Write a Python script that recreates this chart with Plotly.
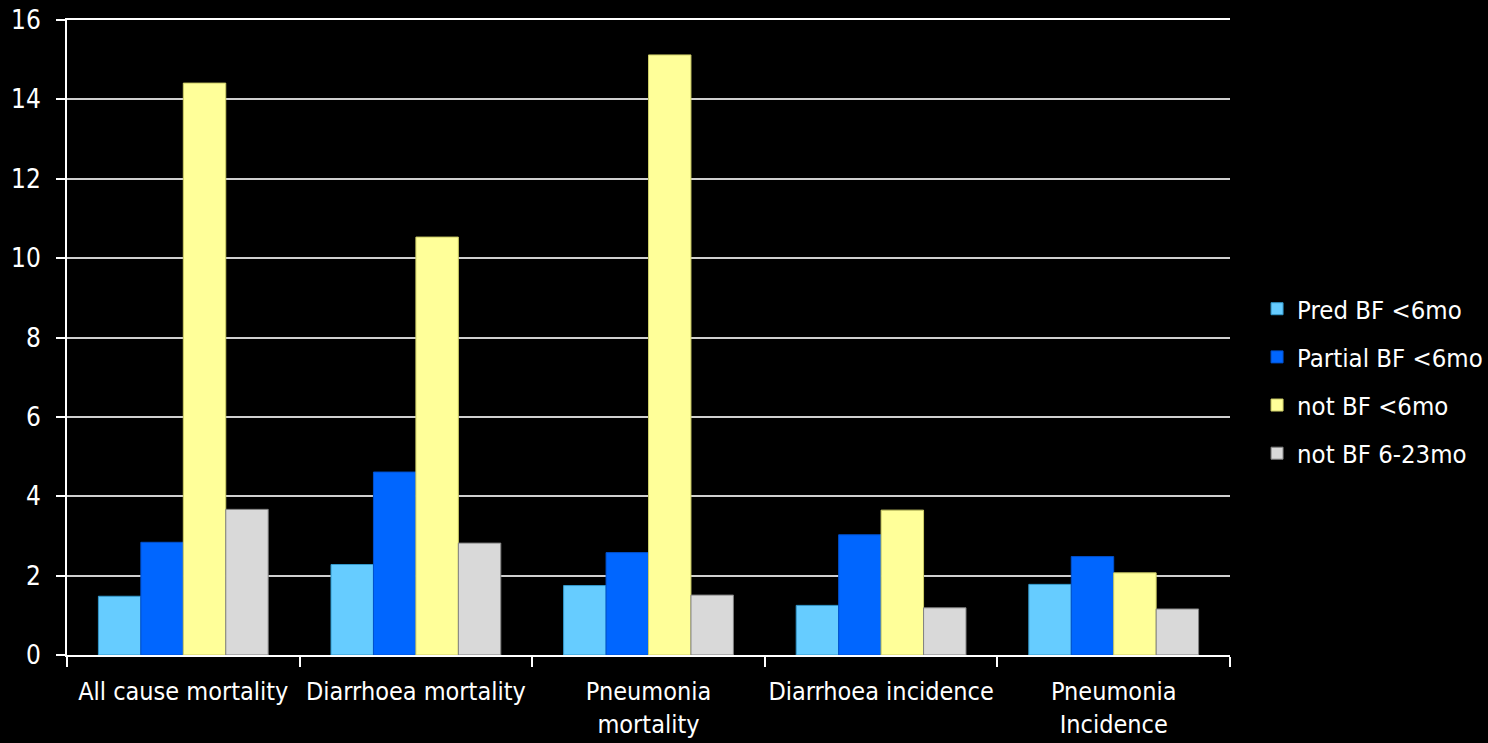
import plotly.graph_objects as go

categories = [
    "All cause mortality",
    "Diarrhoea mortality",
    "Pneumonia<br>mortality",
    "Diarrhoea incidence",
    "Pneumonia<br>Incidence",
]
series_names = ["Pred BF <6mo", "Partial BF <6mo", "not BF <6mo", "not BF 6-23mo"]
pred_bf = [1.48, 2.28, 1.75, 1.25, 1.78]
partial_bf = [2.84, 4.61, 2.58, 3.03, 2.48]
not_bf_6mo = [14.41, 10.53, 15.12, 3.65, 2.07]
not_bf_6_23mo = [3.67, 2.82, 1.51, 1.19, 1.16]
y_ticks = [0, 2, 4, 6, 8, 10, 12, 14, 16]

series_values = [pred_bf, partial_bf, not_bf_6mo, not_bf_6_23mo]
fills = ["#66CCFF", "#0066FF", "#FFFF99", "#D9D9D9"]
edges = ["#3399CC", "#0050CC", "#CCCC66", "#808080"]

FONT = "Tahoma, 'DejaVu Sans Condensed', 'Noto Sans', sans-serif"

fig = go.Figure()
for name, vals, fc, ec in zip(series_names, series_values, fills, edges):
    fig.add_trace(go.Bar(
        x=categories,
        y=vals,
        name=name,
        legendgroup=name,
        marker=dict(color=fc, line=dict(color=ec, width=1)),
    ))

fig.update_layout(
    width=1488,
    height=743,
    paper_bgcolor="black",
    plot_bgcolor="black",
    barmode="group",
    bargap=0.27,
    bargroupgap=0,
    margin=dict(l=67, r=258, t=20, b=88, autoexpand=False),
    font=dict(family=FONT, size=26, color="white"),
    showlegend=True,
    legend=dict(
        xref="container",
        yref="container",
        x=0.8448,
        y=0.487,
        xanchor="left",
        yanchor="middle",
        bgcolor="rgba(0,0,0,0)",
        font=dict(family=FONT, size=25.5, color="white"),
        traceorder="grouped",
        tracegroupgap=12,
        itemwidth=30,
    ),
    xaxis=dict(
        showline=True,
        mirror=True,
        linecolor="white",
        linewidth=2,
        ticks="outside",
        tickson="boundaries",
        ticklen=10,
        tickcolor="white",
        tickwidth=2,
        showgrid=False,
        tickangle=0,
        automargin=False,
        ticklabelstandoff=13,
        tickfont=dict(family=FONT, size=25, color="white"),
    ),
    yaxis=dict(
        range=[0, 16],
        tickvals=y_ticks,
        showline=True,
        linecolor="white",
        linewidth=2,
        ticks="outside",
        ticklen=9,
        tickcolor="white",
        tickwidth=2,
        showgrid=True,
        gridcolor="#CFCFCF",
        gridwidth=2,
        zeroline=False,
        automargin=False,
        ticklabelstandoff=10,
        tickfont=dict(family=FONT, size=26, color="white"),
    ),
)

fig.write_html("out.html")
